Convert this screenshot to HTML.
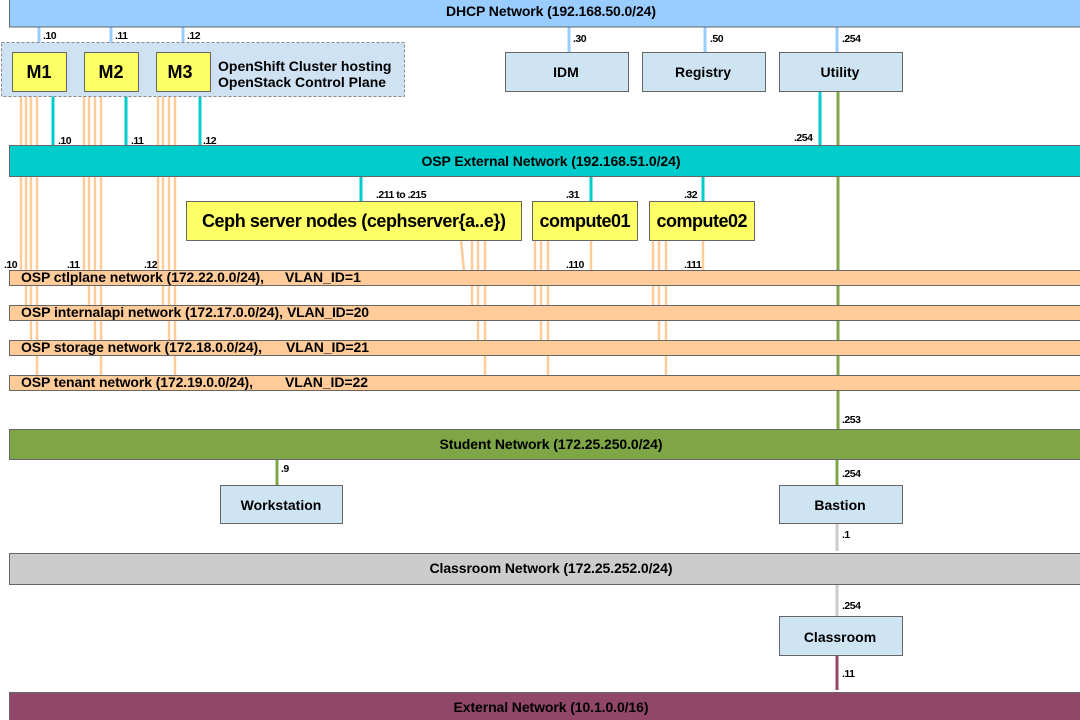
<!DOCTYPE html>
<html><head><meta charset="utf-8"><style>body{margin:0;background:#fff}svg{display:block}text{font-family:"Liberation Sans",sans-serif;font-weight:bold}</style></head><body>
<svg width="1080" height="720" xmlns="http://www.w3.org/2000/svg">
<g stroke-width="3" fill="none">
<g stroke="#ffcc99" stroke-width="2.5">
<line x1="21" y1="91" x2="21" y2="271"/><line x1="26" y1="91" x2="26" y2="306"/><line x1="31" y1="91" x2="31" y2="341"/><line x1="37" y1="91" x2="37" y2="376"/>
<line x1="84" y1="91" x2="84" y2="271"/><line x1="89" y1="91" x2="89" y2="306"/><line x1="95" y1="91" x2="95" y2="341"/><line x1="101" y1="91" x2="101" y2="376"/>
<line x1="158" y1="91" x2="158" y2="271"/><line x1="163" y1="91" x2="163" y2="306"/><line x1="169" y1="91" x2="169" y2="341"/><line x1="175" y1="91" x2="175" y2="376"/>
<line x1="461" y1="240" x2="464" y2="271"/><line x1="472" y1="240" x2="472" y2="306"/><line x1="478" y1="240" x2="478" y2="341"/><line x1="485" y1="240" x2="485" y2="376"/>
<line x1="535" y1="240" x2="535" y2="306"/><line x1="541" y1="240" x2="541" y2="341"/><line x1="548" y1="240" x2="548" y2="376"/><line x1="591" y1="240" x2="591" y2="271"/>
<line x1="653" y1="240" x2="653" y2="306"/><line x1="659" y1="240" x2="659" y2="341"/><line x1="666" y1="240" x2="666" y2="376"/><line x1="703" y1="240" x2="703" y2="271"/>
</g>
<g stroke="#99ccff"><line x1="39" y1="27" x2="39" y2="52"/><line x1="111" y1="27" x2="111" y2="52"/><line x1="183" y1="27" x2="183" y2="52"/><line x1="569" y1="27" x2="569" y2="52"/><line x1="705" y1="27" x2="705" y2="52"/><line x1="837" y1="27" x2="837" y2="52"/></g>
<g stroke="#00cccc"><line x1="53" y1="91" x2="53" y2="146"/><line x1="126" y1="91" x2="126" y2="146"/><line x1="200" y1="91" x2="200" y2="146"/><line x1="820" y1="91" x2="820" y2="146"/><line x1="361" y1="176" x2="361" y2="205"/><line x1="591" y1="176" x2="591" y2="201"/><line x1="703" y1="176" x2="703" y2="201"/></g>
<g stroke="#7ea646"><line x1="838" y1="91" x2="838" y2="430"/><line x1="837" y1="459" x2="837" y2="485"/><line x1="277" y1="459" x2="277" y2="485"/></g>
<g stroke="#cccccc"><line x1="837" y1="523" x2="837" y2="551"/><line x1="837" y1="584" x2="837" y2="616"/></g>
<line x1="837" y1="656" x2="837" y2="690" stroke="#914768"/>
</g>
<g stroke="#666" stroke-width="1">
<rect x="9.5" y="-1" width="1080" height="28" fill="#99ccff"/>
<rect x="9.5" y="145.5" width="1080" height="31" fill="#00cccc"/>
<rect x="9.5" y="270.5" width="1080" height="15" fill="#ffcc99"/>
<rect x="9.5" y="305.5" width="1080" height="15" fill="#ffcc99"/>
<rect x="9.5" y="340.5" width="1080" height="15" fill="#ffcc99"/>
<rect x="9.5" y="375.5" width="1080" height="15" fill="#ffcc99"/>
<rect x="9.5" y="429.5" width="1080" height="30" fill="#7ea646"/>
<rect x="9.5" y="553.5" width="1080" height="31" fill="#cccccc"/>
<rect x="9.5" y="692.5" width="1080" height="30" fill="#914768"/>
<rect x="1.5" y="42.5" width="403" height="54" fill="#cfe2f3" stroke="#888" stroke-dasharray="3,2"/>
<rect x="12.5" y="52.5" width="54" height="39" fill="#ffff66"/>
<rect x="84.5" y="52.5" width="54" height="39" fill="#ffff66"/>
<rect x="156.5" y="52.5" width="54" height="39" fill="#ffff66"/>
<rect x="505.5" y="52.5" width="123" height="39" fill="#cfe4f3"/>
<rect x="642.5" y="52.5" width="123" height="39" fill="#cfe4f3"/>
<rect x="779.5" y="52.5" width="123" height="39" fill="#cfe4f3"/>
<rect x="186.5" y="201.5" width="335" height="39" fill="#ffff66"/>
<rect x="532.5" y="201.5" width="105" height="39" fill="#ffff66"/>
<rect x="649.5" y="201.5" width="105" height="39" fill="#ffff66"/>
<rect x="220.5" y="485.5" width="122" height="38" fill="#cfe4f3"/>
<rect x="779.5" y="485.5" width="123" height="38" fill="#cfe4f3"/>
<rect x="779.5" y="616.5" width="123" height="39" fill="#cfe4f3"/>
</g>
<g font-size="14" text-anchor="middle">
<text x="551" y="16" textLength="210">DHCP Network (192.168.50.0/24)</text>
<text x="551" y="166" textLength="259">OSP External Network (192.168.51.0/24)</text>
<text x="551" y="449" textLength="223">Student Network (172.25.250.0/24)</text>
<text x="551" y="573" textLength="243">Classroom Network (172.25.252.0/24)</text>
<text x="551" y="712" textLength="195">External Network (10.1.0.0/16)</text>
<text x="566" y="77">IDM</text><text x="703" y="77">Registry</text><text x="840" y="77">Utility</text>
<text x="281" y="510">Workstation</text><text x="840" y="510">Bastion</text><text x="840" y="642">Classroom</text>
<g font-size="18"><text x="39" y="78">M1</text><text x="111" y="78">M2</text><text x="180" y="78">M3</text>
<text x="354" y="227" textLength="304">Ceph server nodes (cephserver{a..e})</text><text x="585" y="227" textLength="91">compute01</text><text x="702" y="227" textLength="91">compute02</text></g>
</g>
<g font-size="14"><text x="218" y="71">OpenShift Cluster hosting</text><text x="218" y="87">OpenStack Control Plane</text>
<text x="21" y="282" textLength="243">OSP ctlplane network (172.22.0.0/24),</text><text x="285" y="282">VLAN_ID=1</text>
<text x="21" y="317" textLength="262">OSP internalapi network (172.17.0.0/24),</text><text x="287" y="317" textLength="82">VLAN_ID=20</text>
<text x="21" y="352" textLength="241">OSP storage network (172.18.0.0/24),</text><text x="286" y="352" textLength="83">VLAN_ID=21</text>
<text x="21" y="387" textLength="232">OSP tenant network (172.19.0.0/24),</text><text x="285" y="387" textLength="83">VLAN_ID=22</text></g>
<g font-size="10.5" letter-spacing="-0.5">
<text x="43" y="39">.10</text><text x="115" y="39">.11</text><text x="187" y="39">.12</text>
<text x="573" y="42">.30</text><text x="710" y="42">.50</text><text x="842" y="42">.254</text>
<text x="58" y="144">.10</text><text x="131" y="144">.11</text><text x="203" y="144">.12</text><text x="794" y="141">.254</text>
<text x="376" y="198">.211 to .215</text><text x="566" y="198">.31</text><text x="684" y="198">.32</text>
<text x="4" y="268">.10</text><text x="67" y="268">.11</text><text x="144" y="268">.12</text><text x="566" y="268">.110</text><text x="684" y="268">.111</text>
<text x="842" y="423">.253</text><text x="281" y="472">.9</text><text x="842" y="477">.254</text>
<text x="842" y="538">.1</text><text x="842" y="609">.254</text><text x="842" y="677">.11</text>
</g>
</svg>
</body></html>
